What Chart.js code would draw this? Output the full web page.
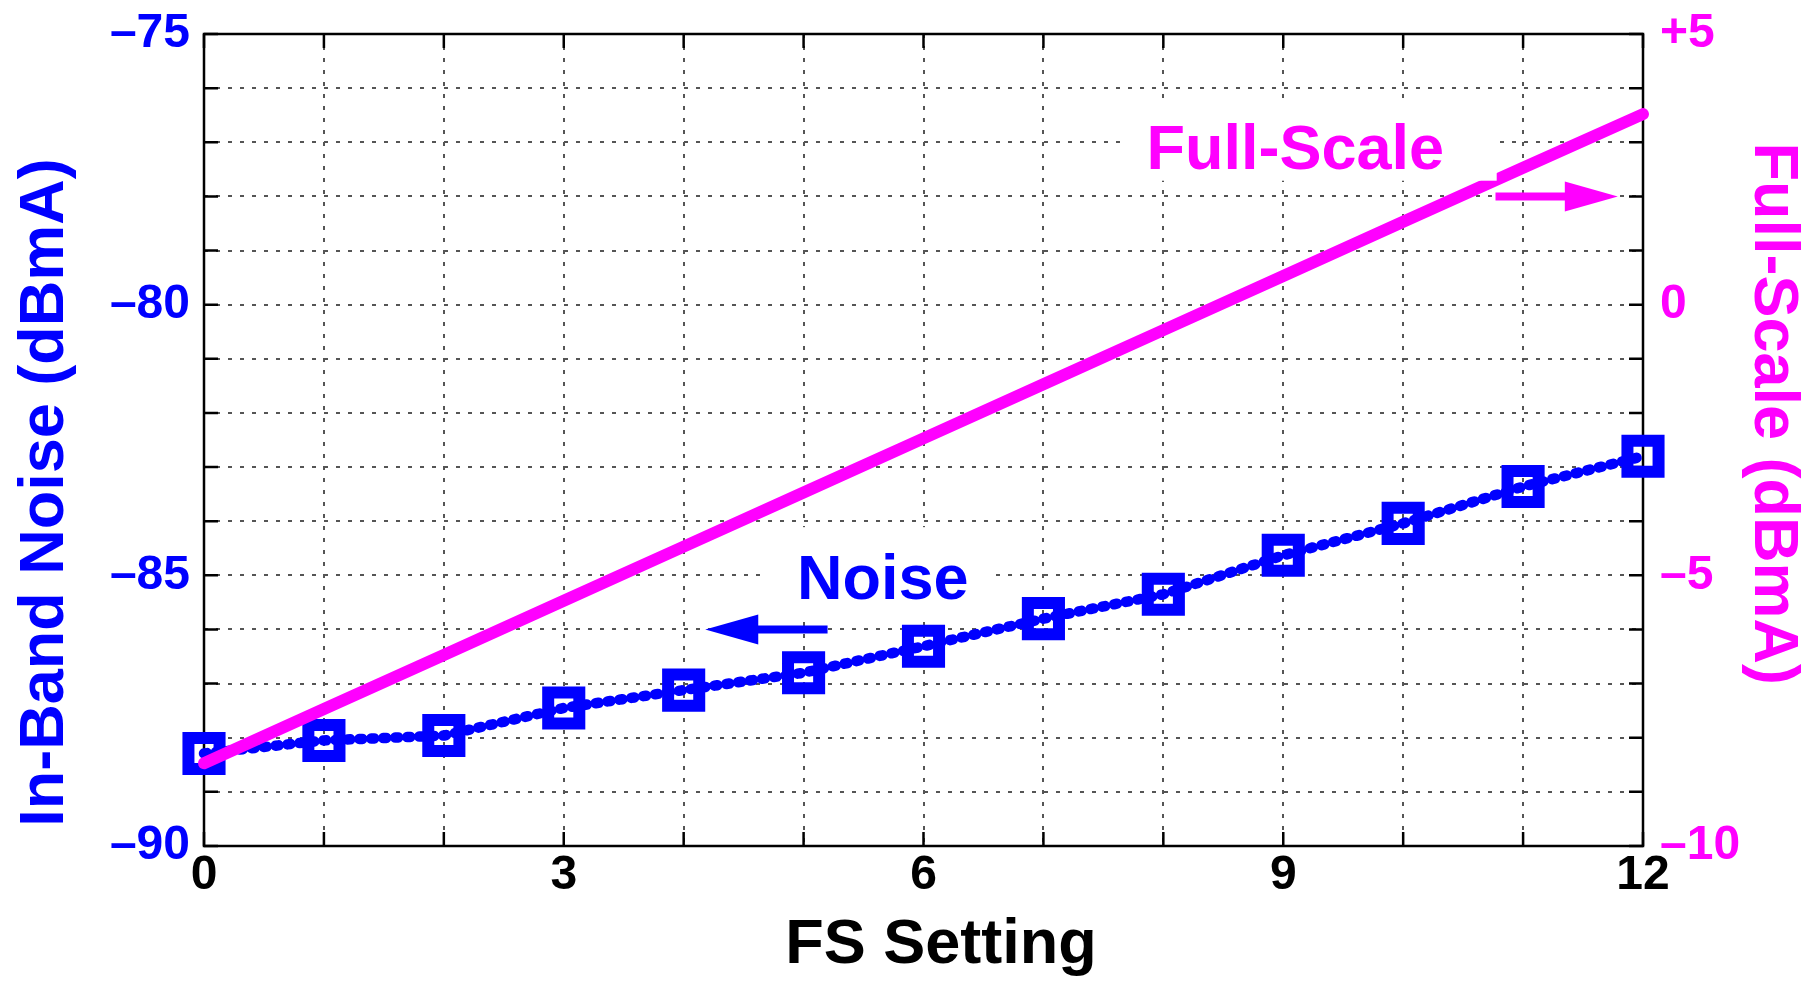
<!DOCTYPE html>
<html>
<head>
<meta charset="utf-8">
<script src="https://cdn.jsdelivr.net/npm/chart.js@4.4.1/dist/chart.umd.min.js"></script>
<style>
  html, body { margin: 0; padding: 0; background: #fff; }
  canvas { display: block; }
</style>
</head>
<body>
<canvas id="myChart" width="1819" height="981"></canvas>
<script>
// values
const fsSetting = [0, 1, 2, 3, 4, 5, 6, 7, 8, 9, 10, 11, 12];
const noiseDbma = [-88.29, -88.05, -87.96, -87.45, -87.12, -86.80, -86.31, -85.80, -85.35, -84.63, -84.04, -83.36, -82.80];
const fullScaleDbma = [-8.47, -7.47, -6.47, -5.47, -4.47, -3.47, -2.47, -1.47, -0.47, 0.53, 1.53, 2.53, 3.52];

const xTicks = [0, 3, 6, 9, 12];
const xTickLabels = ["0", "3", "6", "9", "12"];
const noiseTicks = [-90, -85, -80, -75];
const noiseTickLabels = ["\u201390", "\u201385", "\u201380", "\u201375"];
const fsTicks = [-10, -5, 0, 5];
const fsTickLabels = ["\u201310", "\u20135", "0", "+5"];

const BLUE = "#0000ff";
const MAGENTA = "#ff00ff";
const FONT = "'Liberation Sans', Arial, Helvetica, sans-serif";

const pick = (values, labels) => (v) => {
    const i = values.indexOf(v);
    return i < 0 ? "" : labels[i];
};

const gridOpts = { color: "#555", lineWidth: 2, drawTicks: false };
const borderOpts = { display: false, dash: [4, 8] };
const tickFont = { family: FONT, size: 48, weight: "bold" };
const titleFont = { family: FONT, size: 63, weight: "bold", lineHeight: 1 };

function drawArrow(ctx, x1, x2, y, color) {
    const dir = Math.sign(x2 - x1);
    const headLen = 53;
    const half = 15;
    ctx.strokeStyle = color;
    ctx.fillStyle = color;
    ctx.lineWidth = 8;
    ctx.beginPath();
    ctx.moveTo(x1, y);
    ctx.lineTo(x2 - dir * headLen + dir, y);
    ctx.stroke();
    ctx.beginPath();
    ctx.moveTo(x2, y);
    ctx.lineTo(x2 - dir * headLen, y - half);
    ctx.lineTo(x2 - dir * headLen, y + half);
    ctx.closePath();
    ctx.fill();
}

const framePlugin = {
    id: "frame",
    beforeDatasetsDraw(chart) {
        const { ctx, chartArea: a, scales } = chart;
        const tl = 14;
        ctx.save();
        ctx.strokeStyle = "#000";
        ctx.lineWidth = 2.5;
        ctx.beginPath();
        scales.x.ticks.forEach((t) => {
            const px = scales.x.getPixelForValue(t.value);
            ctx.moveTo(px, a.top);
            ctx.lineTo(px, a.top + tl);
            ctx.moveTo(px, a.bottom);
            ctx.lineTo(px, a.bottom - tl);
        });
        scales.y.ticks.forEach((t) => {
            const py = scales.y.getPixelForValue(t.value);
            ctx.moveTo(a.left, py);
            ctx.lineTo(a.left + tl, py);
            ctx.moveTo(a.right, py);
            ctx.lineTo(a.right - tl, py);
        });
        ctx.stroke();
        ctx.strokeRect(a.left, a.top, a.right - a.left, a.bottom - a.top);
        ctx.restore();
    },
    afterDatasetsDraw(chart) {
        const { ctx, scales } = chart;
        const X = (v) => scales.x.getPixelForValue(v);
        const Y = (v) => scales.y.getPixelForValue(v);
        ctx.save();
        ctx.font = "bold 63px " + FONT;
        ctx.textAlign = "left";
        ctx.textBaseline = "alphabetic";

        // "Full-Scale" note, its white box clips the line under it
        ctx.fillStyle = "#fff";
        ctx.fillRect(X(7.7), Y(-76.33), X(10.78) - X(7.7), Y(-77.71) - Y(-76.33));
        ctx.fillStyle = MAGENTA;
        ctx.fillText("Full-Scale", X(7.86), Y(-77.49));
        drawArrow(ctx, X(10.77), X(11.79), Y(-78), MAGENTA);

        // "Noise" note
        ctx.fillStyle = "#fff";
        ctx.fillRect(X(4.66), Y(-84.11), X(6.6) - X(4.66), Y(-85.76) - Y(-84.11));
        ctx.fillStyle = BLUE;
        ctx.fillText("Noise", X(4.945), Y(-85.44));
        drawArrow(ctx, X(5.2), X(4.18), Y(-86), BLUE);
        ctx.restore();
    },
};

const data = {
    labels: fsSetting,
    datasets: [
        {
            label: "Full-Scale",
            data: fsSetting.map((x, i) => ({ x: x, y: fullScaleDbma[i] })),
            yAxisID: "y2",
            borderColor: MAGENTA,
            borderWidth: 12,
            borderCapStyle: "round",
            pointRadius: 0,
            clip: false,
        },
        {
            label: "Noise",
            data: fsSetting.map((x, i) => ({ x: x, y: noiseDbma[i] })),
            yAxisID: "y",
            borderColor: BLUE,
            borderWidth: 10.5,
            borderCapStyle: "round",
            borderJoinStyle: "round",
            borderDash: [3, 9],
            pointStyle: "rect",
            pointRadius: 22,
            pointBorderWidth: 12,
            pointBorderColor: BLUE,
            pointBackgroundColor: "rgba(0,0,0,0)",
            clip: false,
        },
    ],
};

const fitY = (w) => (scale) => {
    scale.width = w;
    scale.paddingTop = 0;
    scale.paddingBottom = 0;
};

const config = {
    type: "line",
    data,
    options: {
        responsive: false,
        animation: false,
        layout: {
            padding: { top: 33, left: 0, right: 0, bottom: 0 },
        },
        plugins: {
            legend: { display: false },
            tooltip: { enabled: false },
        },
        scales: {
            x: {
                type: "linear",
                min: 0,
                max: 12,
                grid: gridOpts,
                border: borderOpts,
                ticks: {
                    stepSize: 1,
                    autoSkip: false,
                    maxRotation: 0,
                    padding: 1,
                    color: "#000",
                    font: tickFont,
                    callback: pick(xTicks, xTickLabels),
                },
                title: {
                    display: true,
                    text: "  FS Setting",
                    color: "#000",
                    padding: { top: 0, bottom: 3.5 },
                    font: titleFont,
                },
                afterFit: (scale) => {
                    scale.height = 135;
                    scale.paddingLeft = 0;
                    scale.paddingRight = 0;
                },
            },
            y: {
                type: "linear",
                position: "left",
                min: -90,
                max: -75,
                grid: gridOpts,
                border: borderOpts,
                ticks: {
                    stepSize: 1,
                    autoSkip: false,
                    padding: 14,
                    color: BLUE,
                    font: tickFont,
                    callback: pick(noiseTicks, noiseTickLabels),
                },
                title: {
                    display: true,
                    text: "In-Band Noise (dBmA)      ",
                    color: BLUE,
                    padding: { top: 14, bottom: 0 },
                    font: titleFont,
                },
                afterFit: fitY(204),
            },
            y2: {
                type: "linear",
                position: "right",
                min: -10,
                max: 5,
                grid: { display: false, drawTicks: false },
                border: { display: false },
                ticks: {
                    stepSize: 1,
                    autoSkip: false,
                    padding: 17,
                    color: MAGENTA,
                    font: tickFont,
                    callback: pick(fsTicks, fsTickLabels),
                },
                title: {
                    display: true,
                    text: "Full-Scale (dBmA)   ",
                    color: MAGENTA,
                    padding: { top: 15.5, bottom: 0 },
                    font: titleFont,
                },
                afterFit: fitY(176),
            },
        },
    },
    plugins: [framePlugin],
};

const ctx = document.getElementById("myChart").getContext("2d");
const noiseChart = new Chart(ctx, config);
</script>
</body>
</html>
